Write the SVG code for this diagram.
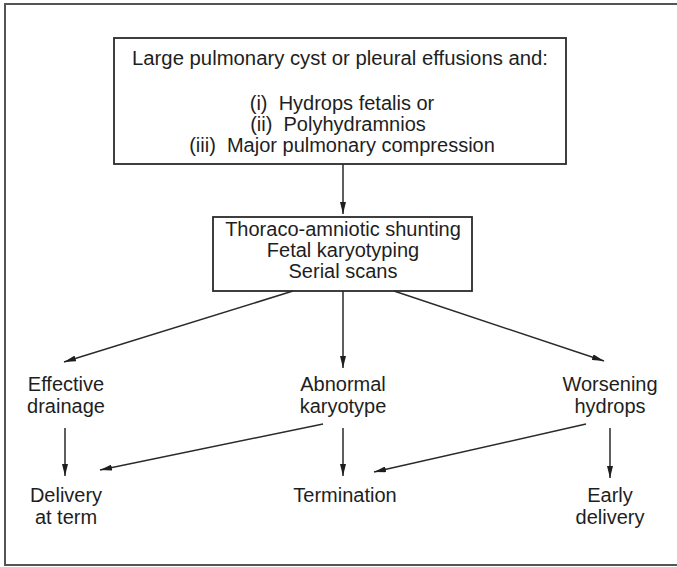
<svg xmlns="http://www.w3.org/2000/svg" width="677" height="567" viewBox="0 0 677 567">
<style>
text{font-family:"Liberation Sans",Arial,sans-serif;font-size:20px;fill:#1e1e1e;text-anchor:middle;white-space:pre}
.box{fill:#fff;stroke:#2a2a2a;stroke-width:1.8}
.frame{fill:none;stroke:#555;stroke-width:2}
.conn line{stroke:#2a2a2a;stroke-width:1.5;marker-end:url(#ah)}
</style>
<defs>
<marker id="ah" viewBox="0 0 12 6" refX="12" refY="3" markerWidth="12" markerHeight="6" markerUnits="userSpaceOnUse" orient="auto">
<path d="M0,0 L12,3 L0,6 Z" fill="#1e1e1e"/>
</marker>
</defs>
<rect width="677" height="567" fill="#fff"/>
<path class="frame" d="M677,4 H5 V565 H677"/>
<g id="criteria">
<rect class="box" x="114" y="38" width="452" height="126"/>
<text x="340" y="65" textLength="416" lengthAdjust="spacingAndGlyphs">Large pulmonary cyst or pleural effusions and:</text>
<text x="342" y="110">(i)  Hydrops fetalis or</text>
<text x="338" y="131">(ii)  Polyhydramnios</text>
<text x="342" y="152">(iii)  Major pulmonary compression</text>
</g>
<g id="management">
<rect class="box" x="213" y="217" width="259" height="74"/>
<text x="343" y="236">Thoraco-amniotic shunting</text>
<text x="343" y="257">Fetal karyotyping</text>
<text x="343" y="278">Serial scans</text>
</g>
<g id="effective"><text x="66" y="391">Effective</text><text x="66" y="413">drainage</text></g>
<g id="abnormal"><text x="343" y="391">Abnormal</text><text x="343" y="413">karyotype</text></g>
<g id="worsening"><text x="610" y="391">Worsening</text><text x="610" y="413">hydrops</text></g>
<g id="delivery"><text x="66" y="502">Delivery</text><text x="66" y="524">at term</text></g>
<g id="termination"><text x="345" y="502">Termination</text></g>
<g id="early"><text x="610" y="502">Early</text><text x="610" y="524">delivery</text></g>
<g class="conn">
<line x1="343" y1="164" x2="343" y2="214"/>
<line x1="293" y1="291" x2="64" y2="362"/>
<line x1="343" y1="291" x2="343" y2="368"/>
<line x1="394" y1="291" x2="604" y2="361"/>
<line x1="65" y1="428" x2="65" y2="476"/>
<line x1="323" y1="424" x2="100" y2="470"/>
<line x1="343" y1="428" x2="343" y2="476"/>
<line x1="586" y1="424" x2="374" y2="472"/>
<line x1="610" y1="428" x2="610" y2="478"/>
</g>
</svg>
